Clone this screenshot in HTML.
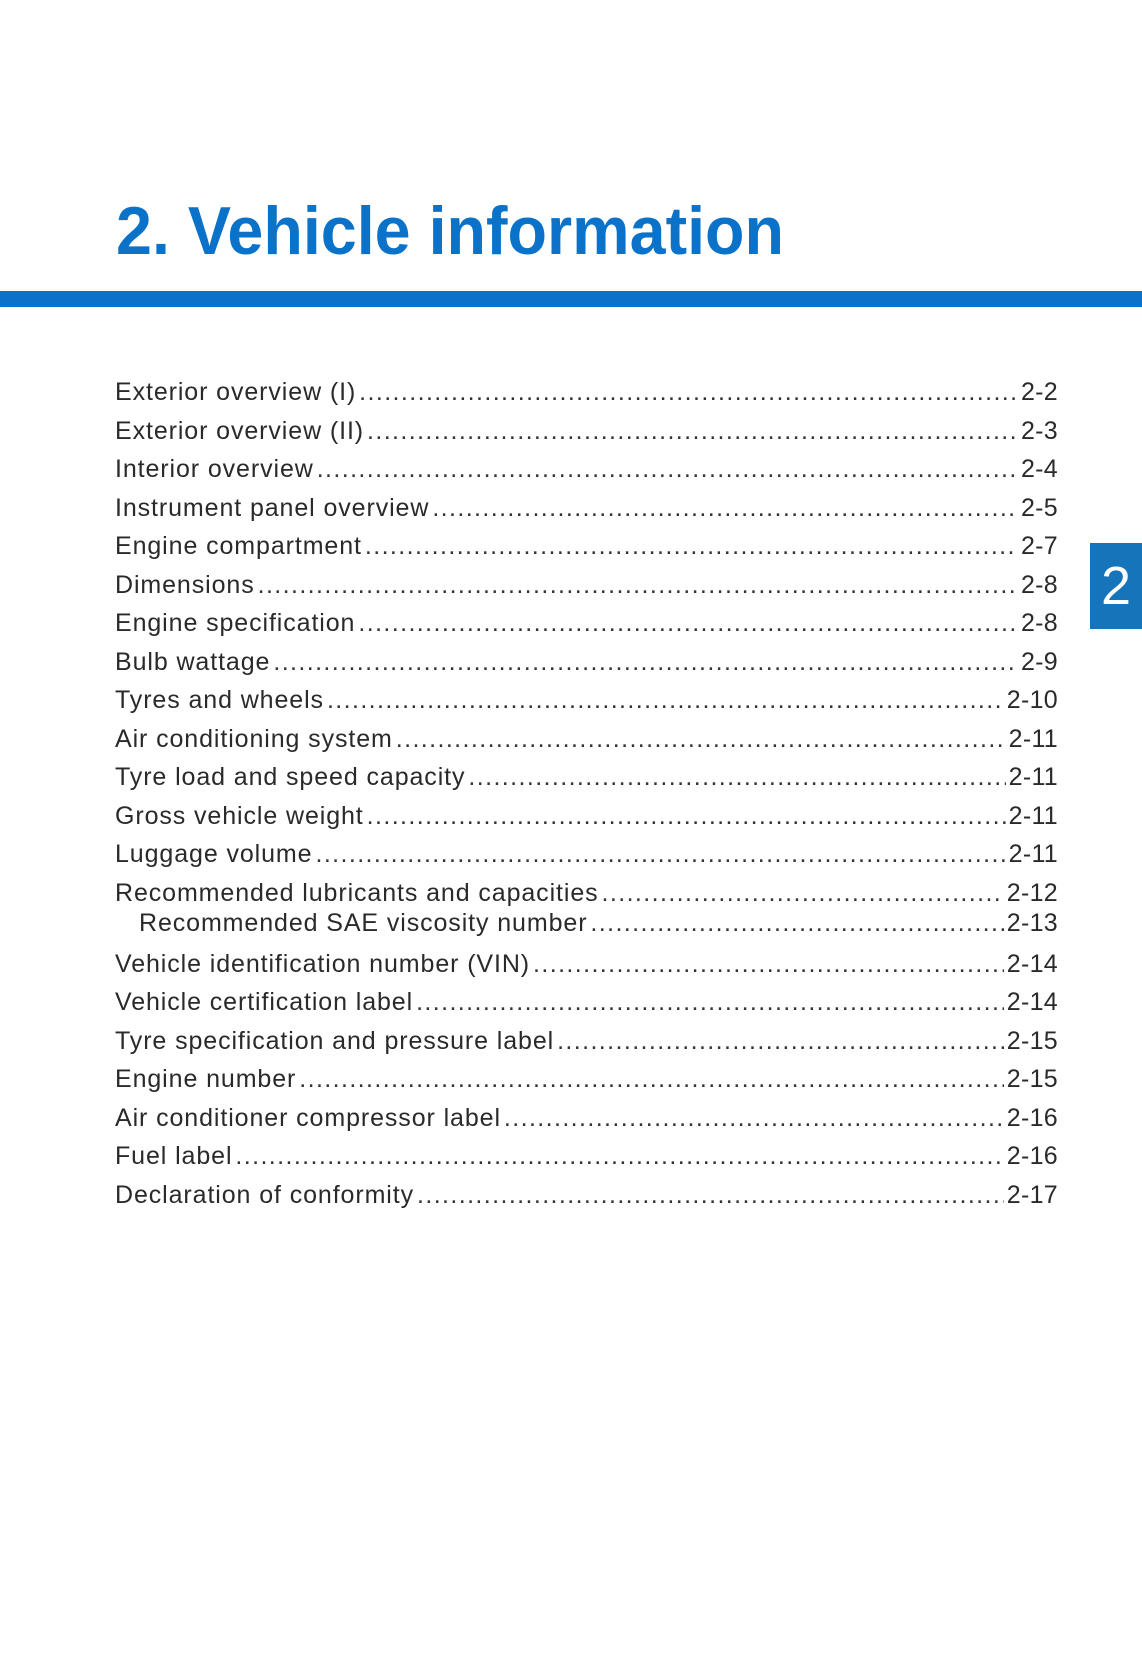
<!DOCTYPE html>
<html><head><meta charset="utf-8"><style>
html,body{margin:0;padding:0;background:#fff}
body{width:1142px;height:1654px;position:relative;overflow:hidden;font-family:"Liberation Sans",sans-serif}
.bar{position:absolute;left:0;top:291px;width:1142px;height:16px;background:#0a72c8}
.tab{position:absolute;left:1090px;top:543px;width:52px;height:86px;background:#1674bb;color:#fff;font-size:54px;line-height:86px;text-align:center}
.row{position:absolute;left:115px;width:943px;display:flex;align-items:baseline;font-size:25px;letter-spacing:0.9px;color:#2a2a2a;height:30px;line-height:30px}
.row .t{white-space:nowrap}
.row .d{flex:1;overflow:hidden;white-space:nowrap;letter-spacing:1.4px;margin:0 3px;color:#333}
.row .p{white-space:nowrap;letter-spacing:0.3px}
.sub{left:139px;width:919px}
</style></head><body>
<svg style="position:absolute;left:0;top:0" width="1142" height="280"><text x="116" y="254" font-family="Liberation Sans" font-weight="bold" font-size="68" fill="#0a72c8" textLength="668" lengthAdjust="spacingAndGlyphs">2. Vehicle information</text></svg>
<div class="bar"></div>
<div class="tab">2</div>
<div class="row" style="top:377px"><span class="t">Exterior overview (I)</span><span class="d">........................................................................................................................................................</span><span class="p">2-2</span></div>
<div class="row" style="top:416px"><span class="t">Exterior overview (II)</span><span class="d">........................................................................................................................................................</span><span class="p">2-3</span></div>
<div class="row" style="top:454px"><span class="t">Interior overview</span><span class="d">........................................................................................................................................................</span><span class="p">2-4</span></div>
<div class="row" style="top:493px"><span class="t">Instrument panel overview</span><span class="d">........................................................................................................................................................</span><span class="p">2-5</span></div>
<div class="row" style="top:531px"><span class="t">Engine compartment</span><span class="d">........................................................................................................................................................</span><span class="p">2-7</span></div>
<div class="row" style="top:570px"><span class="t">Dimensions</span><span class="d">........................................................................................................................................................</span><span class="p">2-8</span></div>
<div class="row" style="top:608px"><span class="t">Engine specification</span><span class="d">........................................................................................................................................................</span><span class="p">2-8</span></div>
<div class="row" style="top:647px"><span class="t">Bulb wattage</span><span class="d">........................................................................................................................................................</span><span class="p">2-9</span></div>
<div class="row" style="top:685px"><span class="t">Tyres and wheels</span><span class="d">........................................................................................................................................................</span><span class="p">2-10</span></div>
<div class="row" style="top:724px"><span class="t">Air conditioning system</span><span class="d">........................................................................................................................................................</span><span class="p">2-11</span></div>
<div class="row" style="top:762px"><span class="t">Tyre load and speed capacity</span><span class="d">........................................................................................................................................................</span><span class="p">2-11</span></div>
<div class="row" style="top:801px"><span class="t">Gross vehicle weight</span><span class="d">........................................................................................................................................................</span><span class="p">2-11</span></div>
<div class="row" style="top:839px"><span class="t">Luggage volume</span><span class="d">........................................................................................................................................................</span><span class="p">2-11</span></div>
<div class="row" style="top:878px"><span class="t">Recommended lubricants and capacities</span><span class="d">........................................................................................................................................................</span><span class="p">2-12</span></div>
<div class="row sub" style="top:908px"><span class="t">Recommended SAE viscosity number</span><span class="d">........................................................................................................................................................</span><span class="p">2-13</span></div>
<div class="row" style="top:949px"><span class="t">Vehicle identification number (VIN)</span><span class="d">........................................................................................................................................................</span><span class="p">2-14</span></div>
<div class="row" style="top:987px"><span class="t">Vehicle certification label</span><span class="d">........................................................................................................................................................</span><span class="p">2-14</span></div>
<div class="row" style="top:1026px"><span class="t">Tyre specification and pressure label</span><span class="d">........................................................................................................................................................</span><span class="p">2-15</span></div>
<div class="row" style="top:1064px"><span class="t">Engine number</span><span class="d">........................................................................................................................................................</span><span class="p">2-15</span></div>
<div class="row" style="top:1103px"><span class="t">Air conditioner compressor label</span><span class="d">........................................................................................................................................................</span><span class="p">2-16</span></div>
<div class="row" style="top:1141px"><span class="t">Fuel label</span><span class="d">........................................................................................................................................................</span><span class="p">2-16</span></div>
<div class="row" style="top:1180px"><span class="t">Declaration of conformity</span><span class="d">........................................................................................................................................................</span><span class="p">2-17</span></div>
</body></html>
